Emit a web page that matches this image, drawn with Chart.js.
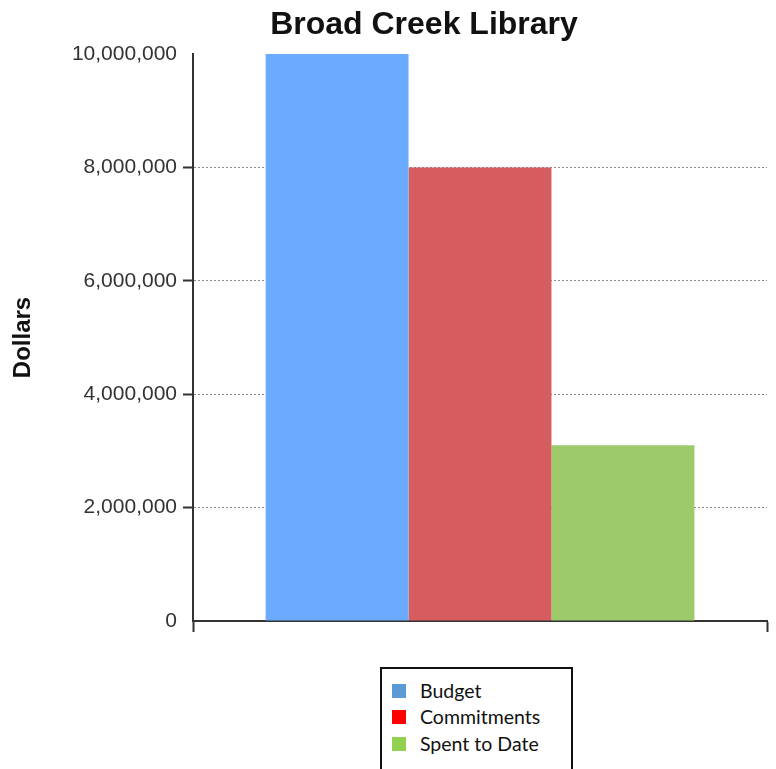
<!DOCTYPE html>
<html>
<head>
<meta charset="utf-8">
<script src="https://cdn.jsdelivr.net/npm/chart.js@4.4.0/dist/chart.umd.min.js"></script>
<style>
  html, body { margin: 0; padding: 0; background: #fff; }
  #wrap { position: relative; width: 776px; height: 769px; overflow: hidden; }
  #chart { position: absolute; left: 0; top: 0; }
  #legend {
    position: absolute; left: 380px; top: 667px; width: 189px; height: 110px;
    border: 2px solid #111; background: #fff;
    font-family: Lato, "Open Sans", sans-serif; font-size: 19.5px; color: #111;
  }
  .item { position: absolute; left: 10px; height: 20px; line-height: 20px; }
  .sw { position: absolute; left: 0; top: 3px; width: 14px; height: 14px; }
  .lbl { position: absolute; left: 28px; top: 0; white-space: nowrap; }
</style>
</head>
<body>
<div id="wrap">
  <canvas id="chart" width="776" height="769"></canvas>
  <div id="legend"></div>
</div>
<script>
// ---------------------------------------------------------
// Datos
// ---------------------------------------------------------
const chartTitle = 'Broad Creek Library';
const categories = [''];
const seriesNames = ['Budget', 'Commitments', 'Spent to Date'];
const budget = [10000000];
const commitments = [8000000];
const spentToDate = [3100000];
const yTicks = [0, 2000000, 4000000, 6000000, 8000000, 10000000];

// colores de las barras y de la leyenda (no son iguales en el original)
const barColors = ['#6aaaff', '#d65d5f', '#9dcb6b'];
const legendColors = ['#5b9bd5', '#ff0000', '#92d050'];

const AXIS = '#333333';

// titulo dibujado a mano para poder centrarlo donde esta en el original
const titlePlugin = {
  id: 'titulo',
  afterDraw(chart) {
    const ctx = chart.ctx;
    ctx.save();
    ctx.font = 'bold 32px "Liberation Sans", Arial, sans-serif';
    ctx.fillStyle = '#111';
    ctx.textAlign = 'center';
    ctx.textBaseline = 'alphabetic';
    ctx.fillText(chartTitle, 424, 34);
    ctx.restore();
  }
};

const hideEnds = ctx => {
  const v = ctx.tick && ctx.tick.value;
  return (v === yTicks[0] || v === yTicks[yTicks.length - 1]) ? 'transparent' : null;
};

new Chart(document.getElementById('chart'), {
  type: 'bar',
  data: {
    labels: categories,
    datasets: [
      { label: seriesNames[0], data: budget, backgroundColor: barColors[0] },
      { label: seriesNames[1], data: commitments, backgroundColor: barColors[1] },
      { label: seriesNames[2], data: spentToDate, backgroundColor: barColors[2] }
    ]
  },
  options: {
    responsive: false,
    animation: false,
    locale: 'en-US',
    layout: { padding: { top: 54, right: 9, bottom: 0, left: 0 } },
    datasets: { bar: { barPercentage: 1, categoryPercentage: 0.747, borderWidth: 0 } },
    plugins: {
      legend: { display: false },
      title: { display: false },
      tooltip: { enabled: false }
    },
    scales: {
      x: {
        offset: true,
        border: { color: AXIS, width: 2 },
        grid: {
          offset: true,
          drawOnChartArea: false,
          drawTicks: true,
          tickLength: 11,
          tickColor: AXIS,
          tickWidth: 2,
          color: AXIS
        },
        ticks: { display: false },
        afterFit: s => { s.height = 148; }
      },
      y: {
        min: yTicks[0],
        max: yTicks[yTicks.length - 1],
        afterBuildTicks: s => { s.ticks = yTicks.map(v => ({ value: v })); },
        // en v4 el punteado de la rejilla va en border.dash
        border: { color: AXIS, width: 2, dash: [2, 2] },
        grid: {
          color: ctx => hideEnds(ctx) || '#8a8a8a',
          lineWidth: 1,
          tickBorderDash: [],
          tickColor: ctx => hideEnds(ctx) || AXIS,
          tickWidth: 2,
          tickLength: 10
        },
        ticks: {
          color: '#333',
          padding: 6,
          font: { family: '"Liberation Sans", Arial, sans-serif', size: 21 },
          callback: v => v.toLocaleString('en-US')
        },
        title: {
          display: true,
          text: 'Dollars',
          color: '#111',
          font: { family: '"Liberation Sans", Arial, sans-serif', size: 24, weight: 'bold' },
          padding: { top: 9, bottom: 0 }
        },
        afterFit: s => { s.width = 193; }
      }
    }
  },
  plugins: [titlePlugin]
});

// leyenda en HTML (caja con borde como en la imagen)
const legendEl = document.getElementById('legend');
const rowTops = [12, 38, 65];
seriesNames.forEach((name, i) => {
  const item = document.createElement('div');
  item.className = 'item';
  item.style.top = rowTops[i] + 'px';
  item.innerHTML = `<span class="sw" style="background:${legendColors[i]}"></span><span class="lbl">${name}</span>`;
  legendEl.appendChild(item);
});
</script>
</body>
</html>
